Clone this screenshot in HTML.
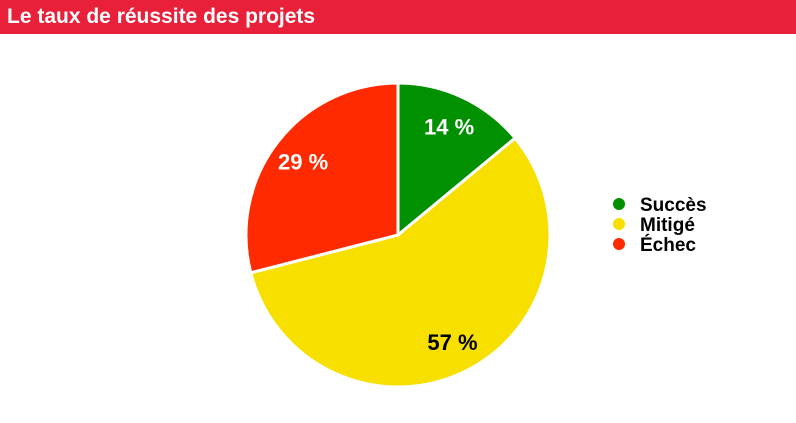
<!DOCTYPE html>
<html><head><meta charset="utf-8"><style>
body{margin:0;width:796px;height:423px;background:#fff;overflow:hidden;font-family:"Liberation Sans",sans-serif}
.hdr{position:absolute;left:0;top:0;width:796px;height:34px;background:#e8203a;color:#fff;font-weight:bold;font-size:21px;line-height:34px;padding-left:7px;box-sizing:border-box}
</style></head><body>
<div class="hdr">Le taux de réussite des projets</div>
<svg id="c" width="796" height="423" style="position:absolute;left:0;top:0"></svg>
<script>
const categories=["Succès","Mitigé","Échec"];
const values=[14,57,29];
const colors=["#009000","#f7e000","#ff2a00"];
const labelColors=["#fff","#000","#fff"];
const svg=document.getElementById('c');
const NS="http://www.w3.org/2000/svg";
const cx=398,cy=235,r=152;
const total=values.reduce((a,b)=>a+b,0);
let a0=0;
function pt(a,rr){return [cx+rr*Math.sin(a),cy-rr*Math.cos(a)];}
values.forEach((v,i)=>{
  const a1=a0+v/total*2*Math.PI;
  const p0=pt(a0,r),p1=pt(a1,r);
  const large=(a1-a0)>Math.PI?1:0;
  const p=document.createElementNS(NS,'path');
  p.setAttribute('d',`M${cx},${cy}L${p0[0]},${p0[1]}A${r},${r} 0 ${large} 1 ${p1[0]},${p1[1]}Z`);
  p.setAttribute('fill',colors[i]);p.setAttribute('stroke','#fff');p.setAttribute('stroke-width','3');
  
  
  svg.appendChild(p);
  const am=(a0+a1)/2;const lp=pt(am,r*0.79);
  const t=document.createElementNS(NS,'text');
  t.setAttribute('x',lp[0]);t.setAttribute('y',lp[1]+8);
  t.setAttribute('text-anchor','middle');t.setAttribute('font-size','22');t.setAttribute('font-weight','bold');
  t.setAttribute('fill',labelColors[i]);t.textContent=v+' %';
  
  
  svg.appendChild(t);
  const c=document.createElementNS(NS,'circle');
  c.setAttribute('cx',619);c.setAttribute('cy',204+i*20);c.setAttribute('r',6);c.setAttribute('fill',colors[i]);
  
  
  svg.appendChild(c);
  const lt=document.createElementNS(NS,'text');
  lt.setAttribute('x',640);lt.setAttribute('y',211+i*20);lt.setAttribute('font-size','19');lt.setAttribute('font-weight','bold');
  lt.setAttribute('fill','#000');lt.textContent=categories[i];
  
  
  svg.appendChild(lt);
  a0=a1;
});
</script>
</body></html>
